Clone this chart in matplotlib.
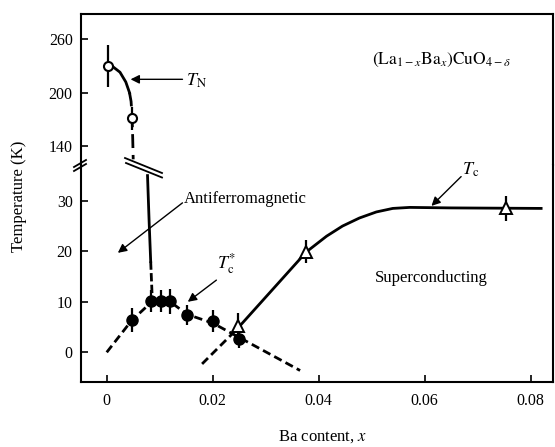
import matplotlib.pyplot as plt
from matplotlib.lines import Line2D

plt.rcParams['font.family'] = ['Liberation Serif', 'DejaVu Serif']
plt.rcParams['mathtext.fontset'] = 'stix'

# T_N : open circles (upper part)
tn_x = [0.0003, 0.0048]
tn_t = [230, 171]
tn_err = [24, 13]

# T_N boundary
tn_solid_x = [0.0012, 0.0025, 0.0036, 0.0043]
tn_solid_t = [229, 223, 212, 200]
tn_dash_x = [0.0043, 0.0046, 0.0048, 0.0049, 0.0050]
tn_dash_t = [200, 190, 171, 150, 125]
tn_low_solid_x = [0.0077, 0.0080, 0.0083]
tn_low_solid_t = [35.0, 26, 18]
tn_low_dash_x = [0.0083, 0.0086]
tn_low_dash_t = [18, 10.5]

# T_c* : filled circles
tcs_x = [0.0047, 0.0084, 0.0102, 0.0120, 0.0152, 0.0200, 0.0249]
tcs_t = [6.4, 10.2, 10.1, 10.1, 7.4, 6.2, 2.6]
tcs_err = [2.3, 2.2, 2.2, 2.5, 2.0, 2.1, 1.8]
tcs_line_x = [0.0, 0.0047, 0.0085, 0.0120, 0.0152, 0.0200, 0.0365]
tcs_line_t = [0.0, 6.3, 10.0, 10.0, 7.5, 5.8, -3.6]

# T_c : open triangles
tc_x = [0.0248, 0.0377, 0.0753]
tc_t = [5.2, 19.9, 28.5]
tc_err = [2.6, 2.3, 2.5]
tc_dash_x = [0.0180, 0.0245]
tc_dash_t = [-2.3, 4.5]
tc_line_x = [0.0245, 0.0377, 0.0415, 0.0445, 0.0477, 0.0509, 0.0540, 0.0572, 0.0650, 0.0820]
tc_line_t = [4.5, 19.9, 23.0, 25.0, 26.6, 27.8, 28.5, 28.7, 28.6, 28.5]

x_ticks = [0, 0.02, 0.04, 0.06, 0.08]
x_ticklabels = ['0', '0.02', '0.04', '0.06', '0.08']
y_ticks_low = [0, 10, 20, 30]
y_ticks_high = [140, 200, 260]

W, H = 555, 447
fig = plt.figure(figsize=(W / 100, H / 100), dpi=100)
ax_hi = fig.add_axes([0.146, 0.6309, 0.850, 0.3378])
ax_lo = fig.add_axes([0.146, 0.1454, 0.850, 0.4855])

for ax in (ax_hi, ax_lo):
    ax.set_xlim(-0.00485, 0.0842)
    for s in ax.spines.values():
        s.set_linewidth(1.5)
    ax.tick_params(direction='in', length=5, width=1.2, labelsize=11.5)
    ax.tick_params(axis='y', pad=6)
ax_hi.spines['bottom'].set_visible(False)
ax_lo.spines['top'].set_visible(False)
ax_hi.set_ylim(118.6, 288.5)
ax_lo.set_ylim(-5.88, 37.1)
ax_hi.set_yticks(y_ticks_high)
ax_lo.set_yticks(y_ticks_low)
ax_hi.set_xticks([])
ax_lo.set_xticks(x_ticks)
ax_lo.set_xticklabels(x_ticklabels)
ax_lo.tick_params(axis='x', pad=8)

lw = 2.0
# upper T_N
ax_hi.plot(tn_solid_x, tn_solid_t, color='k', lw=lw)
ax_hi.plot(tn_dash_x, tn_dash_t, color='k', lw=lw, dashes=(5, 2.5))
ax_hi.errorbar(tn_x, tn_t, yerr=tn_err, fmt='none', ecolor='k', elinewidth=1.6)
ax_hi.plot(tn_x, tn_t, 'o', ms=6.5, mfc='white', mec='k', mew=1.5, zorder=5)

# lower T_N
ax_lo.plot(tn_low_solid_x, tn_low_solid_t, color='k', lw=lw)
ax_lo.plot(tn_low_dash_x, tn_low_dash_t, color='k', lw=lw, dashes=(3, 1.2))

# T_c*
ax_lo.plot(tcs_line_x, tcs_line_t, color='k', lw=lw, dashes=(3, 1.6))
ax_lo.errorbar(tcs_x, tcs_t, yerr=tcs_err, fmt='none', ecolor='k', elinewidth=1.6)
ax_lo.plot(tcs_x, tcs_t, 'o', ms=8, color='k', zorder=5)

# T_c
ax_lo.plot(tc_dash_x, tc_dash_t, color='k', lw=lw, dashes=(3, 1.6))
ax_lo.plot(tc_line_x, tc_line_t, color='k', lw=lw)
ax_lo.errorbar(tc_x, tc_t, yerr=tc_err, fmt='none', ecolor='k', elinewidth=1.6)
ax_lo.plot(tc_x, tc_t, '^', ms=9, mfc='white', mec='k', mew=1.4, zorder=5)

# labels and arrows
arr = dict(arrowstyle='-|>', color='k', lw=1.0, mutation_scale=13, shrinkA=0, shrinkB=0)
ax_hi.annotate('', xy=(0.0045, 215), xytext=(0.0143, 215), arrowprops=arr)
ax_hi.text(0.0150, 213, r'$T_\mathrm{N}$', fontsize=13, va='center', ha='left')
ax_hi.text(0.050, 237, r'$(\mathrm{La}_{1-x}\mathrm{Ba}_{x})\mathrm{CuO}_{4-\delta}$',
           fontsize=12.5, va='center', ha='left')

ax_lo.annotate('', xy=(0.0021, 19.7), xytext=(0.0143, 29.6), arrowprops=arr)
ax_lo.text(0.0145, 30.3, 'Antiferromagnetic', fontsize=12, va='center', ha='left')
ax_lo.annotate('', xy=(0.0153, 10.0), xytext=(0.0207, 14.3), arrowprops=arr)
ax_lo.text(0.0208, 17.5, r'$T_\mathrm{c}^{*}$', fontsize=13, va='center', ha='left')
ax_lo.annotate('', xy=(0.0613, 29.0), xytext=(0.0669, 34.8), arrowprops=arr)
ax_lo.text(0.0670, 36.2, r'$T_\mathrm{c}$', fontsize=13, va='center', ha='left')
ax_lo.text(0.0506, 14.7, 'Superconducting', fontsize=12, va='center', ha='left')

fig.text(323 / W, 1 - 437 / H, 'Ba content, $x$', fontsize=12, ha='center', va='center')
fig.text(19 / W, 1 - 196 / H, 'Temperature (K)', fontsize=12, rotation=90,
         ha='center', va='center')


# axis break marks (in pixels)
def px_line(x0, y0, x1, y1, lw_=1.3):
    fig.add_artist(Line2D([x0 / W, x1 / W], [1 - y0 / H, 1 - y1 / H],
                          color='k', lw=lw_, transform=fig.transFigure))


px_line(74, 167, 86, 160)
px_line(74, 171, 86, 164)
px_line(125, 158, 162, 173)
px_line(126, 163, 162, 177.5)

fig.savefig('out.png', dpi=100)
